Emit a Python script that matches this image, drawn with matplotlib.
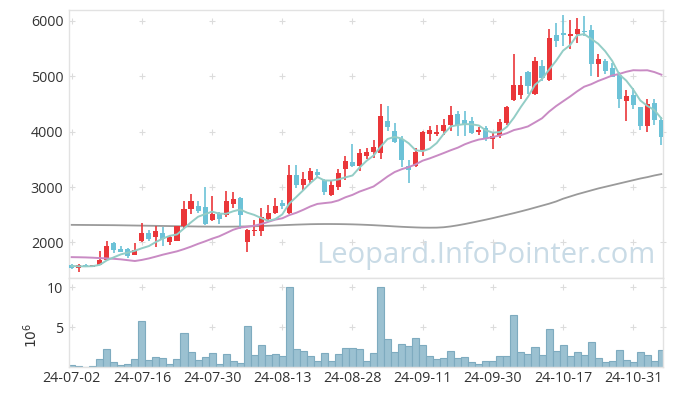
import numpy as np
import pandas as pd
import matplotlib
matplotlib.use('Agg')
import matplotlib.pyplot as plt

plt.rcParams['font.family'] = ['Open Sans', 'DejaVu Sans']

# trading days (KRX), 24-07-02 .. 24-11-06
dates = ['24-07-02', '24-07-03', '24-07-04', '24-07-05', '24-07-08', '24-07-09', '24-07-10', '24-07-11',
         '24-07-12', '24-07-15', '24-07-16', '24-07-17', '24-07-18', '24-07-19', '24-07-22', '24-07-23',
         '24-07-24', '24-07-25', '24-07-26', '24-07-29', '24-07-30', '24-07-31',
         '24-08-01', '24-08-02', '24-08-05', '24-08-06', '24-08-07', '24-08-08', '24-08-09', '24-08-12',
         '24-08-13', '24-08-14', '24-08-16', '24-08-19', '24-08-20', '24-08-21', '24-08-22', '24-08-23',
         '24-08-26', '24-08-27', '24-08-28', '24-08-29', '24-08-30',
         '24-09-02', '24-09-03', '24-09-04', '24-09-05', '24-09-06', '24-09-09', '24-09-10', '24-09-11',
         '24-09-12', '24-09-13', '24-09-19', '24-09-20', '24-09-23', '24-09-24', '24-09-25', '24-09-26',
         '24-09-27', '24-09-30',
         '24-10-02', '24-10-04', '24-10-07', '24-10-08', '24-10-10', '24-10-11', '24-10-14', '24-10-15',
         '24-10-16', '24-10-17', '24-10-18', '24-10-21', '24-10-22', '24-10-23', '24-10-24', '24-10-25',
         '24-10-28', '24-10-29', '24-10-30', '24-10-31',
         '24-11-01', '24-11-04', '24-11-05', '24-11-06']

open_ = [1595, 1535, 1590, 1565, 1600, 1675, 1990, 1885, 1885, 1780,
         2020, 2175, 2090, 2170, 2000, 2035, 2300, 2600, 2660, 2640,
         2400, 2535, 2500, 2690, 2810, 2000, 2200, 2215, 2430, 2535,
         2720, 2540, 3225, 3030, 3120, 3280, 3135, 2865, 3010, 3330,
         3445, 3390, 3570, 3630, 3620, 4200, 4020, 3860, 3390, 3375,
         3675, 3960, 3965, 4005, 4115, 4325, 4205, 4200, 3990, 4060,
         3865, 3930, 4160, 4570, 4670, 5075, 4690, 5195, 4940, 5755,
         5775, 5725, 5760, 5815, 5845, 5215, 5275, 5155, 5030, 4550,
         4670, 4440, 4110, 4520, 4220]
high = [1610, 1610, 1615, 1595, 1840, 2020, 2000, 1945, 1900, 1990,
        2350, 2230, 2295, 2280, 2135, 2300, 2750, 2875, 2750, 3010,
        2840, 2545, 2930, 2910, 2820, 2235, 2400, 2620, 2670, 2800,
        2770, 3400, 3395, 3270, 3350, 3320, 3140, 3120, 3330, 3555,
        3770, 3680, 3700, 3850, 4500, 4460, 4150, 3915, 3495, 3705,
        4010, 4095, 4125, 4235, 4465, 4370, 4380, 4265, 4080, 4100,
        3995, 4235, 4470, 5395, 5015, 5095, 5350, 5300, 5860, 5955,
        6110, 6025, 6055, 6085, 5920, 5395, 5315, 5250, 5070, 4745,
        4790, 4450, 4590, 4590, 4265]
low = [1520, 1460, 1560, 1560, 1595, 1665, 1810, 1820, 1715, 1770,
       2000, 2030, 1920, 1930, 1950, 2020, 2240, 2515, 2530, 2320,
       2390, 2340, 2455, 2630, 2245, 1825, 2120, 2110, 2380, 2510,
       2600, 2510, 2990, 2950, 3080, 3180, 2850, 2840, 2955, 3135,
       3370, 3290, 3510, 3520, 3510, 4020, 3800, 3365, 3075, 3360,
       3560, 3830, 3930, 3945, 4010, 3920, 3920, 3950, 3945, 3825,
       3690, 3890, 4130, 4550, 4600, 4680, 4660, 4910, 4910, 5530,
       5545, 5495, 5600, 5720, 5000, 4990, 5050, 4980, 4430, 4200,
       4410, 4040, 3990, 4130, 3765]
close = [1535, 1595, 1570, 1590, 1690, 1940, 1870, 1835, 1750, 1855,
         2170, 2065, 2205, 2065, 2100, 2290, 2610, 2755, 2565, 2340,
         2515, 2430, 2740, 2790, 2500, 2230, 2230, 2455, 2535, 2660,
         2655, 3220, 3040, 3150, 3295, 3210, 2905, 3030, 3255, 3480,
         3380, 3615, 3640, 3730, 4275, 4080, 3815, 3485, 3305, 3640,
         4000, 4040, 3995, 4130, 4310, 4130, 4125, 3975, 4025, 3870,
         3920, 4180, 4450, 4850, 4850, 4820, 5270, 4970, 5695, 5645,
         5745, 5765, 5860, 5800, 5215, 5305, 5090, 4985, 4585, 4650,
         4490, 4110, 4500, 4205, 3900]

# volume, millions of shares
volume = [0.25, 0.12, 0.03, 0.10, 1.00, 2.25, 0.67, 0.25, 0.37, 1.00,
          5.75, 0.87, 1.25, 1.12, 0.37, 1.00, 4.25, 1.87, 0.87, 1.25,
          1.75, 0.37, 1.62, 0.75, 0.50, 5.12, 1.50, 2.75, 1.50, 1.62,
          1.37, 10.0, 2.25, 2.10, 1.37, 0.75, 1.75, 0.75, 1.62, 2.37,
          2.37, 2.25, 0.75, 1.75, 10.1, 3.50, 1.87, 2.87, 2.62, 3.62,
          2.75, 1.37, 1.00, 1.12, 2.00, 1.12, 1.25, 0.62, 0.37, 0.75,
          0.75, 1.37, 1.37, 6.50, 1.87, 1.62, 2.50, 1.50, 4.75, 2.00,
          2.75, 1.37, 1.87, 1.50, 3.12, 1.12, 0.62, 0.75, 2.12, 0.87,
          0.62, 1.87, 1.50, 0.75, 2.12]

# moving averages: warm-up values (need data before 24-07-02)
ma5_head = [1575, 1570, 1568, 1572]
ma20_head = [1735, 1733, 1730, 1725, 1718, 1712, 1705, 1695, 1680, 1665,
             1685, 1712, 1745, 1780, 1810, 1840, 1880, 1925, 1975]
ma120 = [2318, 2317, 2316, 2315, 2314, 2313, 2312, 2310, 2308, 2306,
         2304, 2302, 2300, 2298, 2296, 2294, 2292, 2290, 2288, 2287,
         2286, 2285, 2285, 2286, 2288, 2290, 2293, 2297, 2302, 2307,
         2312, 2317, 2322, 2326, 2330, 2332, 2333, 2333, 2332, 2330,
         2327, 2323, 2318, 2312, 2305, 2298, 2290, 2283, 2277, 2272,
         2268, 2267, 2268, 2275, 2290, 2310, 2333, 2358, 2385, 2412,
         2440, 2470, 2500, 2530, 2562, 2595, 2630, 2665, 2700, 2740,
         2790, 2830, 2870, 2905, 2940, 2975, 3005, 3035, 3065, 3095,
         3125, 3155, 3180, 3210, 3235]

RED = '#ea3639'
CYAN = '#6cc2d7'
SPINE = '#e2e2e2'
TXT = '#333333'

o = np.array(open_, float)
h = np.array(high, float)
l = np.array(low, float)
c = np.array(close, float)
n = len(c)
x = np.arange(n)

cs = pd.Series(c)
ma5 = cs.rolling(5).mean().to_numpy()
ma5[:4] = ma5_head
ma20 = cs.rolling(20).mean().to_numpy()
ma20[:19] = ma20_head

fig = plt.figure(figsize=(6.73, 3.96), dpi=100)
ax = fig.add_axes([0.1025, 0.2992, 0.8826, 0.6748])
axv = fig.add_axes([0.1025, 0.0725, 0.8826, 0.2267], sharex=ax)

xmin, xmax = -0.385, 84.23

# candles
colors = np.where(c >= o, RED, CYAN)
ax.vlines(x, l, h, colors=colors, linewidth=1.2, zorder=3)
ax.bar(x, np.maximum(np.abs(c - o), 14), bottom=np.minimum(o, c), width=0.72,
       color=colors, linewidth=0, zorder=3)

ax.plot(x, ma120, color='#9a9a9a', lw=1.3, zorder=2)
ax.plot(x, ma20, color='#c98bc4', lw=1.4, zorder=4)
ax.plot(x, ma5, color='#93cdc6', lw=1.4, zorder=4)

ax.text(0.9865, 0.054, 'Leopard.InfoPointer.com', transform=ax.transAxes,
        ha='right', va='baseline', fontsize=21, color='#c9dbe6', zorder=1)

# volume
axv.bar(x, volume, width=1.0, color='#9bc1d1', edgecolor='#7eabbf', linewidth=0.8, zorder=2)

yt_main = [2000, 3000, 4000, 5000, 6000]
yt_vol = [5, 10]
xt = list(range(0, 81, 10))

ax.set_xlim(xmin, xmax)
ax.set_ylim(1367, 6193)
axv.set_ylim(0, 11.25)

ax.set_yticks(yt_main)
axv.set_yticks(yt_vol)
axv.set_xticks(xt)
axv.set_xticklabels([dates[i] for i in xt])
plt.setp(ax.get_xticklabels(), visible=False)

for a, yts in ((ax, yt_main), (axv, yt_vol)):
    gx, gy = np.meshgrid(xt + [xmax], yts)
    a.scatter(gx.ravel(), gy.ravel(), marker='+', s=18, color='#dcdcdc',
              linewidths=0.8, zorder=1, clip_on=False)
    a.tick_params(length=0, labelsize=10.3, colors=TXT, pad=4)
    for s in a.spines.values():
        s.set_color(SPINE)
        s.set_linewidth(1.0)

axv.tick_params(axis='x', pad=3)
fig.text(32 / 673, 1 - 335 / 396, r'$10^{6}$', rotation=90, ha='center', va='center',
         fontsize=10, color=TXT)

fig.savefig('out.png', dpi=100)
